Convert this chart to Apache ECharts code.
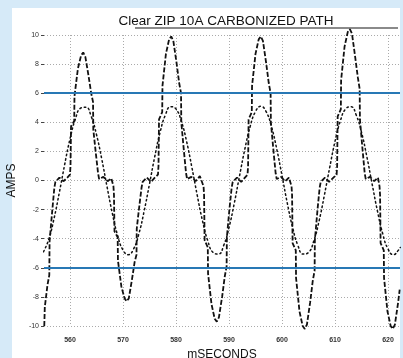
<!DOCTYPE html>
<html>
<head>
<meta charset="utf-8">
<script src="https://cdn.jsdelivr.net/npm/echarts@6/dist/echarts.min.js"></script>
<style>
html,body{margin:0;padding:0;width:403px;height:358px;background:#d6eaf8;overflow:hidden;}
#panel{position:absolute;left:12px;top:8px;width:388px;height:350px;background:#ffffff;}
#chart{position:absolute;left:0;top:0;width:403px;height:358px;}
</style>
</head>
<body>
<div id="panel"></div>
<div id="chart"></div>
<script>
// Title and axis names
const titleText = 'Clear ZIP 10A CARBONIZED PATH';
const yName = 'AMPS';
const xName = 'mSECONDS';

// Threshold lines (amps)
const thresholds = [6, -6];

// Reference sine trace (dotted): [ms, amps]
const sineTrace = [
  [555,-4.90],[556,-4.04],[557,-2.60],[558,-0.81],[559,1.10],[560,2.85],[561,4.20],[562,4.97],
  [563,5.04],[564,4.41],[565,3.16],[566,1.47],[567,-0.44],[568,-2.27],[569,-3.79],[570,-4.78],
  [571,-5.10],[572,-4.71],[573,-3.66],[574,-2.09],[575,-0.24],[576,1.65],[577,3.31],[578,4.50],
  [579,5.07],[580,4.92],[581,4.09],[582,2.69],[583,0.90],[584,-1.00],[585,-2.77],[586,-4.15],
  [587,-4.95],[588,-5.06],[589,-4.46],[590,-3.23],[591,-1.56],[592,0.34],[593,2.18],[594,3.72],
  [595,4.74],[596,5.10],[597,4.74],[598,3.72],[599,2.18],[600,0.34],[601,-1.56],[602,-3.23],
  [603,-4.46],[604,-5.06],[605,-4.95],[606,-4.15],[607,-2.77],[608,-1.00],[609,0.90],[610,2.69],
  [611,4.09],[612,4.92],[613,5.07],[614,4.50],[615,3.31],[616,1.65],[617,-0.24],[618,-2.09],
  [619,-3.66],[620,-4.71],[621,-5.10],[622,-4.78],[622.3,-4.60]
];

// Arc current trace (dashed): [ms, amps]
const currentTrace = [
  [555.15,-10.0],[555.25,-8.7],[555.75,-7.2],[556.1,-6.5],[556.15,-4.2],[556.65,-2.1],[557.05,-0.5],[557.25,-0.1],
  [558.0,0.2],[558.8,-0.05],[559.5,0.2],
  [560.0,0.4],[560.1,1.0],[560.2,3.7],[560.8,4.1],[560.85,5.8],[561.5,7.7],[562.1,8.6],[562.5,8.8],
  [562.9,8.5],[563.5,7.2],[564.0,6.0],[564.35,5.4],[564.4,3.5],[564.9,1.8],[565.3,0.5],[565.5,0.1],
  [566.3,0.25],[567.1,-0.05],[567.8,0.15],
  [568.2,-0.4],[568.3,-1.0],[568.4,-3.5],[569.0,-3.9],[569.05,-5.5],[569.7,-7.3],[570.3,-8.1],[570.7,-8.3],
  [571.1,-8.1],[571.7,-6.8],[572.2,-5.6],[572.55,-5.1],[572.6,-3.3],[573.1,-1.7],[573.5,-0.5],[573.7,-0.1],
  [574.5,0.2],[575.3,-0.1],[576.0,0.2],
  [576.6,0.4],[576.7,1.0],[576.8,4.2],[577.4,4.7],[577.45,6.5],[578.1,8.7],[578.7,9.7],[579.1,9.9],
  [579.5,9.6],[580.1,8.1],[580.6,6.7],[580.95,6.0],[581.0,4.0],[581.5,2.0],[581.9,0.5],[582.1,0.1],
  [582.9,0.25],[583.7,-0.05],[584.5,0.3],
  [585.2,-0.4],[585.3,-1.0],[585.4,-4.1],[586.0,-4.6],[586.05,-6.4],[586.7,-8.5],[587.3,-9.5],[587.7,-9.7],
  [588.1,-9.4],[588.7,-8.0],[589.2,-6.6],[589.55,-5.9],[589.6,-3.9],[590.1,-1.9],[590.5,-0.5],[590.7,-0.1],
  [591.5,0.2],[592.3,-0.1],[593.0,0.2],
  [593.5,0.4],[593.6,1.0],[593.7,4.2],[594.3,4.7],[594.35,6.5],[595.0,8.7],[595.6,9.7],[596.0,9.9],
  [596.4,9.6],[597.0,8.1],[597.5,6.7],[597.85,6.0],[597.9,4.0],[598.4,2.0],[598.8,0.5],[599.0,0.1],
  [599.8,0.25],[600.6,-0.05],[601.3,0.2],
  [601.8,-0.4],[601.9,-1.0],[602.0,-4.3],[602.6,-4.8],[602.65,-6.7],[603.3,-9.0],[603.9,-10.0],[604.3,-10.2],
  [604.7,-9.9],[605.3,-8.4],[605.8,-6.9],[606.15,-6.2],[606.2,-4.1],[606.7,-2.0],[607.1,-0.5],[607.3,-0.1],
  [608.1,0.2],[608.9,-0.1],[609.7,0.2],
  [610.3,0.4],[610.4,1.0],[610.5,4.4],[611.1,4.9],[611.15,6.9],[611.8,9.2],[612.4,10.2],[612.8,10.4],
  [613.2,10.1],[613.8,8.5],[614.3,7.1],[614.65,6.3],[614.7,4.2],[615.2,2.1],[615.6,0.5],[615.8,0.1],
  [616.6,0.25],[617.4,-0.05],[618.1,0.2],
  [618.4,-0.4],[618.5,-1.0],[618.6,-4.3],[619.2,-4.8],[619.25,-6.7],[619.9,-9.0],[620.5,-10.0],[620.9,-10.2],
  [621.3,-9.9],[621.9,-8.4],[622.2,-7.5]
];

const chart = echarts.init(document.getElementById('chart'), null, {renderer: 'canvas'});
const labelFont = 'Liberation Sans, Arial, sans-serif';

chart.setOption({
  animation: false,
  backgroundColor: 'transparent',
  title: {
    text: titleText,
    left: 221,
    top: 9,
    textAlign: 'center',
    textStyle: {fontSize: 13.5, fontWeight: 'normal', color: '#111', fontFamily: labelFont}
  },
  graphic: [{
    type: 'line',
    shape: {x1: 135, y1: 28, x2: 398, y2: 28},
    style: {stroke: '#8a8a8a', lineWidth: 2}
  }],
  grid: {left: 44, right: 3, top: 35, bottom: 32, containLabel: false, outerBoundsMode: 'none'},
  xAxis: {
    type: 'value',
    min: 555.1,
    max: 622.26,
    name: xName,
    nameLocation: 'middle',
    nameGap: 19,
    nameTextStyle: {fontSize: 12, color: '#111', fontFamily: labelFont},
    axisLine: {show: false},
    axisTick: {show: false},
    axisLabel: {showMinLabel: false, showMaxLabel: false, fontSize: 7, fontWeight: 'bold', color: '#333', margin: 11, fontFamily: labelFont},
    splitLine: {show: true, showMinLine: false, showMaxLine: false, lineStyle: {color: '#aaaaaa', type: [1, 2], width: 1}}
  },
  yAxis: {
    type: 'value',
    min: -10,
    max: 10,
    interval: 2,
    name: yName,
    nameLocation: 'middle',
    nameGap: 14,
    nameRotate: 90,
    nameTextStyle: {fontSize: 12, color: '#111', fontFamily: labelFont},
    axisLine: {show: false},
    axisTick: {show: true, length: 3, lineStyle: {color: '#444'}},
    axisLabel: {fontSize: 7, color: '#333', margin: 5, fontFamily: labelFont},
    splitLine: {show: true, lineStyle: {color: '#aaaaaa', type: [1, 2], width: 1}}
  },
  series: [
    {
      type: 'line',
      data: sineTrace,
      smooth: true,
      showSymbol: false,
      lineStyle: {color: '#111', width: 1.5, type: [1.5, 3], cap: 'round'},
      silent: true,
      z: 2
    },
    {
      type: 'line',
      data: currentTrace,
      showSymbol: false,
      clip: false,
      lineStyle: {color: '#111', width: 1.8, type: [5, 2]},
      silent: true,
      z: 3,
      markLine: {
        symbol: 'none',
        silent: true,
        label: {show: false},
        lineStyle: {color: '#2878b5', width: 2, type: 'solid'},
        data: thresholds.map(v => ({yAxis: v}))
      }
    }
  ]
});
</script>
</body>
</html>
